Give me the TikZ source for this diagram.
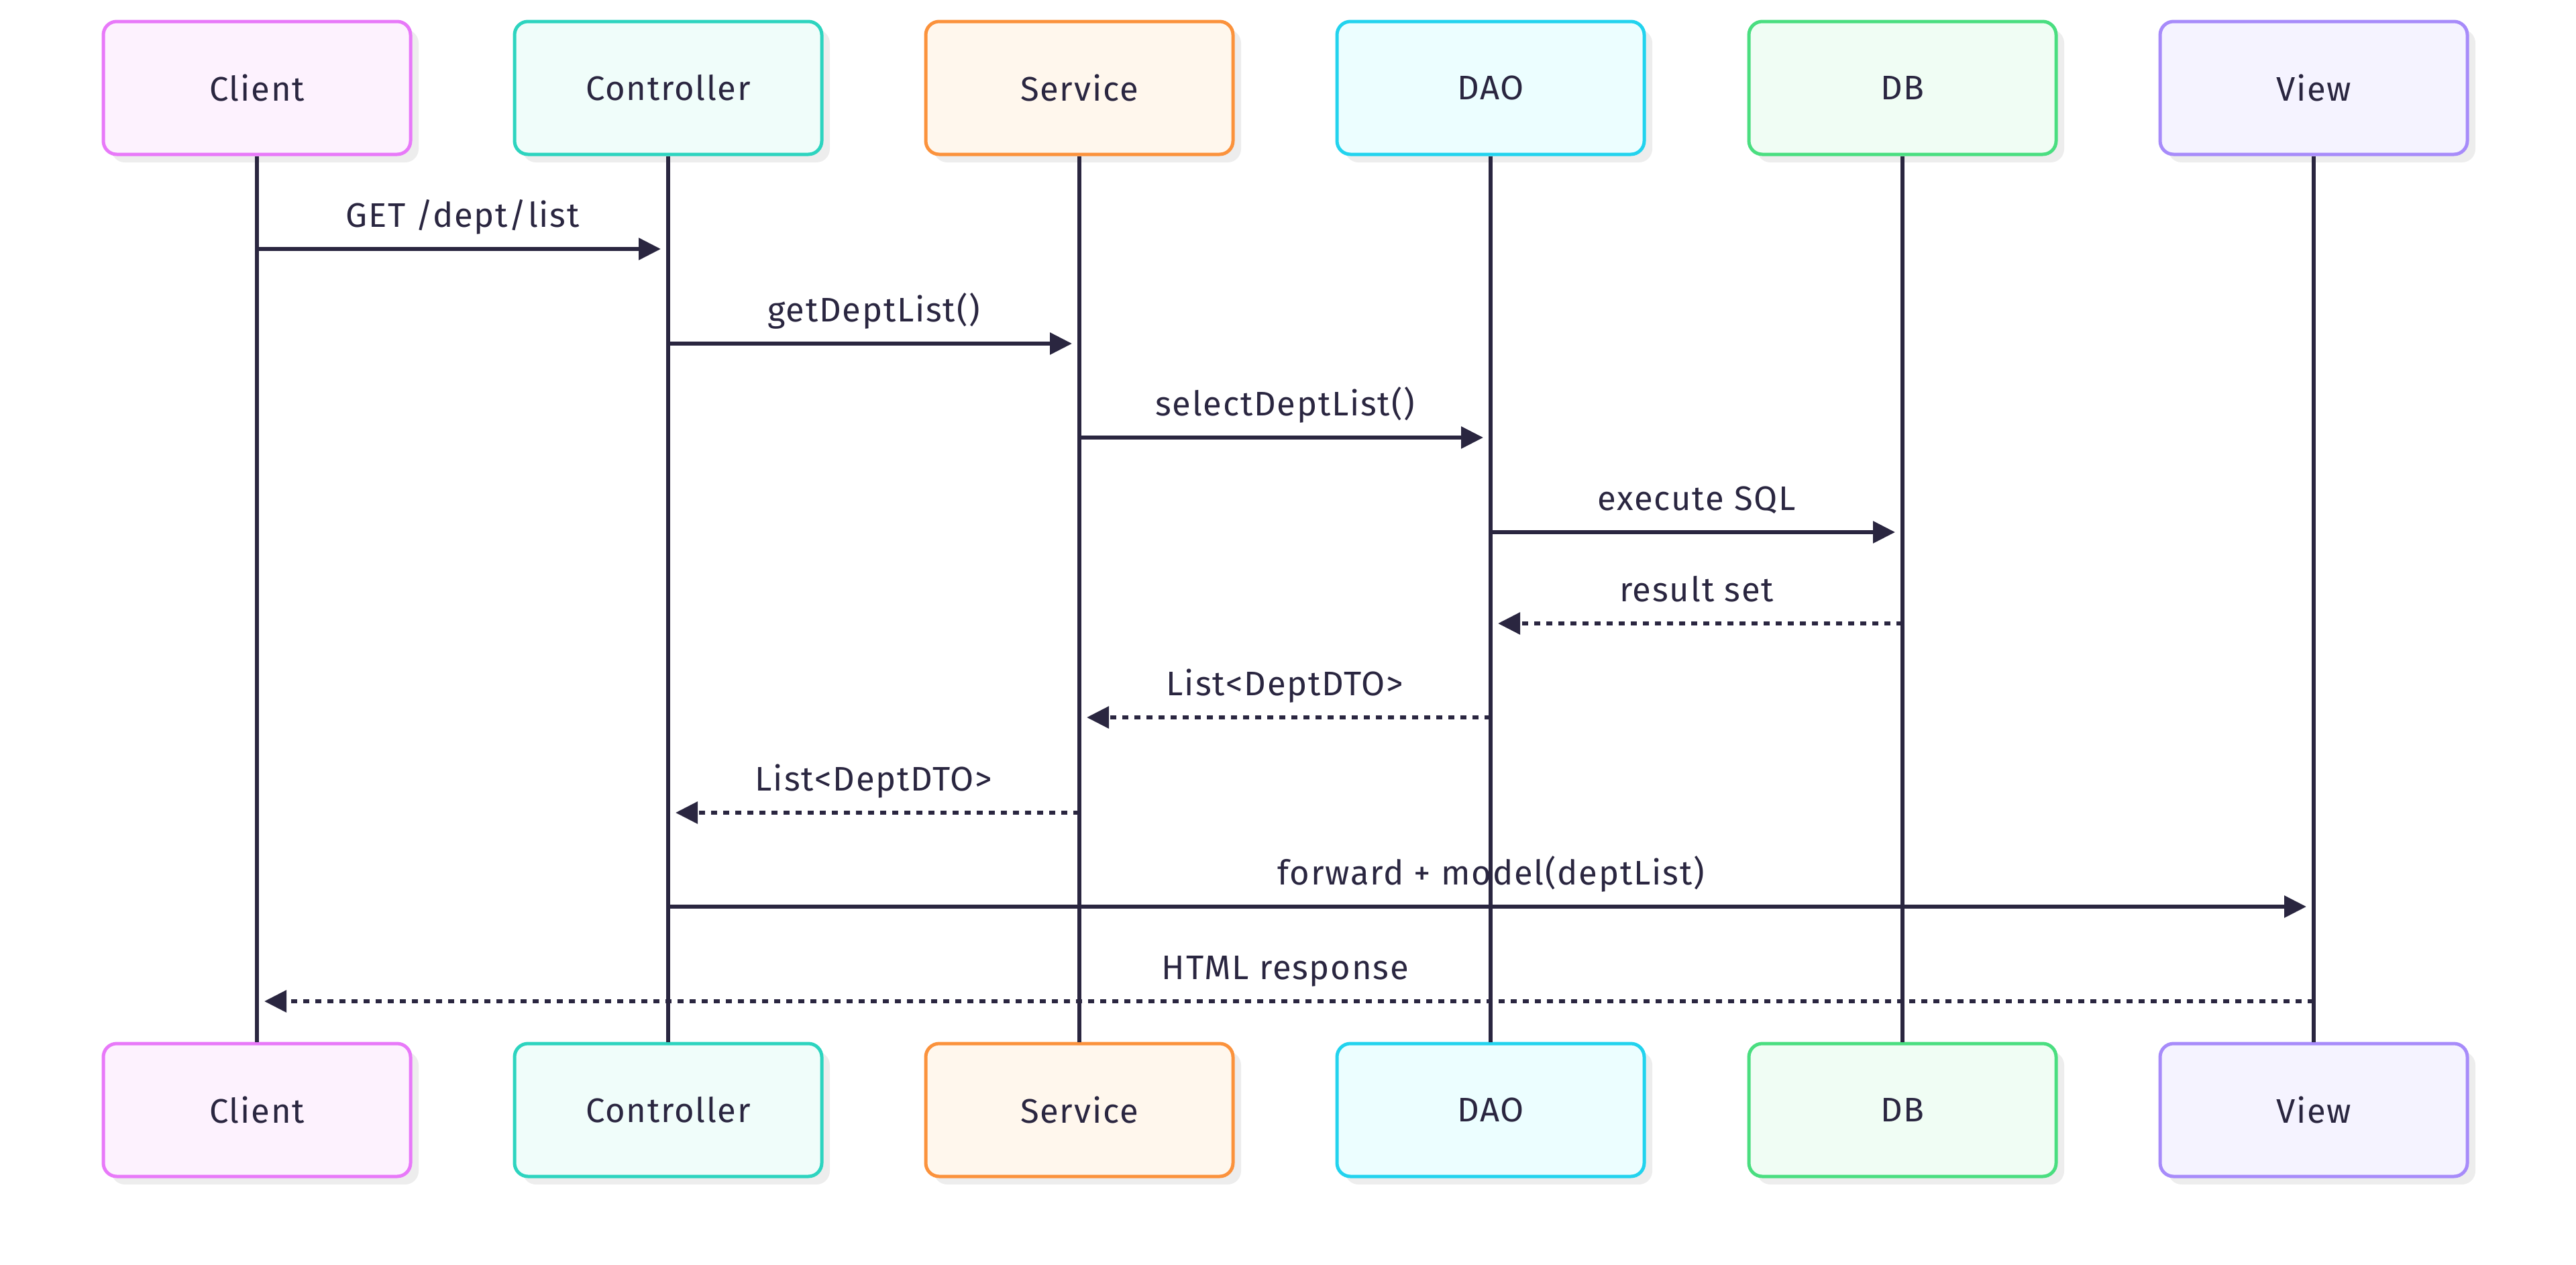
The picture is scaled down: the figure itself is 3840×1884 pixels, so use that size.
\documentclass[tikz,border=0pt]{standalone}
\usepackage{fontspec}
\setmainfont[LetterSpace=3.5]{Fira Sans}
\usetikzlibrary{arrows.meta,shadows}
\definecolor{ink}{HTML}{2A2640}
\definecolor{cliD}{HTML}{E879F9}\definecolor{cliF}{HTML}{FDF2FE}
\definecolor{ctlD}{HTML}{2DD4BF}\definecolor{ctlF}{HTML}{F0FDFA}
\definecolor{svcD}{HTML}{FB923C}\definecolor{svcF}{HTML}{FFF7ED}
\definecolor{daoD}{HTML}{22D3EE}\definecolor{daoF}{HTML}{ECFEFF}
\definecolor{dbD}{HTML}{4ADE80}\definecolor{dbF}{HTML}{F0FDF4}
\definecolor{viewD}{HTML}{A78BFA}\definecolor{viewF}{HTML}{F5F3FF}
\begin{document}
\begin{tikzpicture}[x=0.25pt,y=-0.25pt,
  txt/.style={font=\fontsize{12.7}{15}\selectfont, text=ink},
  actor/.style n args={2}{draw=#1, fill=#2, line width=1.25pt, rounded corners=5pt,
    minimum width=114.5pt, minimum height=49.5pt, inner sep=0pt, txt,
    drop shadow={shadow xshift=3pt, shadow yshift=-3pt, fill=black!7, opacity=1}},
  life/.style={draw=ink, line width=1.5pt},
  msg/.style={draw=ink, line width=1.45pt, -{Triangle[length=8.25pt,width=8pt]}, shorten >=2.75pt},
  ret/.style={msg, dash pattern=on 2.2pt off 2.3pt},
  lbl/.style={txt, midway, anchor=base, yshift=8.25pt, inner sep=0pt}
]
\useasboundingbox (0,0) rectangle (3840,1884);

% top actors
\node[actor={cliD}{cliF}]  (cliT)  at (383,131)  {Client};
\node[actor={ctlD}{ctlF}]  (ctlT)  at (996,131)  {Controller};
\node[actor={svcD}{svcF}]  (svcT)  at (1609,131) {Service};
\node[actor={daoD}{daoF}]  (daoT)  at (2222,131) {DAO};
\node[actor={dbD}{dbF}]    (dbT)   at (2836,131) {DB};
\node[actor={viewD}{viewF}](viewT) at (3449,131) {View};
% bottom actors
\node[actor={cliD}{cliF}]  (cliB)  at (383,1654)  {Client};
\node[actor={ctlD}{ctlF}]  (ctlB)  at (996,1654)  {Controller};
\node[actor={svcD}{svcF}]  (svcB)  at (1609,1654) {Service};
\node[actor={daoD}{daoF}]  (daoB)  at (2222,1654) {DAO};
\node[actor={dbD}{dbF}]    (dbB)   at (2836,1654) {DB};
\node[actor={viewD}{viewF}](viewB) at (3449,1654) {View};

% lifelines
\draw[life] (cliT) -- (cliB);
\draw[life] (ctlT) -- (ctlB);
\draw[life] (svcT) -- (svcB);
\draw[life] (daoT) -- (daoB);
\draw[life] (dbT) -- (dbB);
\draw[life] (viewT) -- (viewB);

% messages
\draw[msg] (cliT |- 0,371) -- (ctlT |- 0,371) node[lbl] {GET /dept/list};
\draw[msg] (ctlT |- 0,512) -- (svcT |- 0,512) node[lbl] {getDeptList()};
\draw[msg] (svcT |- 0,652) -- (daoT |- 0,652) node[lbl] {selectDeptList()};
\draw[msg] (daoT |- 0,793) -- (dbT |- 0,793) node[lbl] {execute SQL};
\draw[ret] (dbT |- 0,929) -- (daoT |- 0,929) node[lbl] {result set};
\draw[ret] (daoT |- 0,1069) -- (svcT |- 0,1069) node[lbl] {List<DeptDTO>};
\draw[ret] (svcT |- 0,1211) -- (ctlT |- 0,1211) node[lbl] {List<DeptDTO>};
\draw[msg] (ctlT |- 0,1351) -- (viewT |- 0,1351) node[lbl] {forward + model(deptList)};
\draw[ret] (viewT |- 0,1492) -- (cliT |- 0,1492) node[lbl] {HTML response};
\end{tikzpicture}
\end{document}
